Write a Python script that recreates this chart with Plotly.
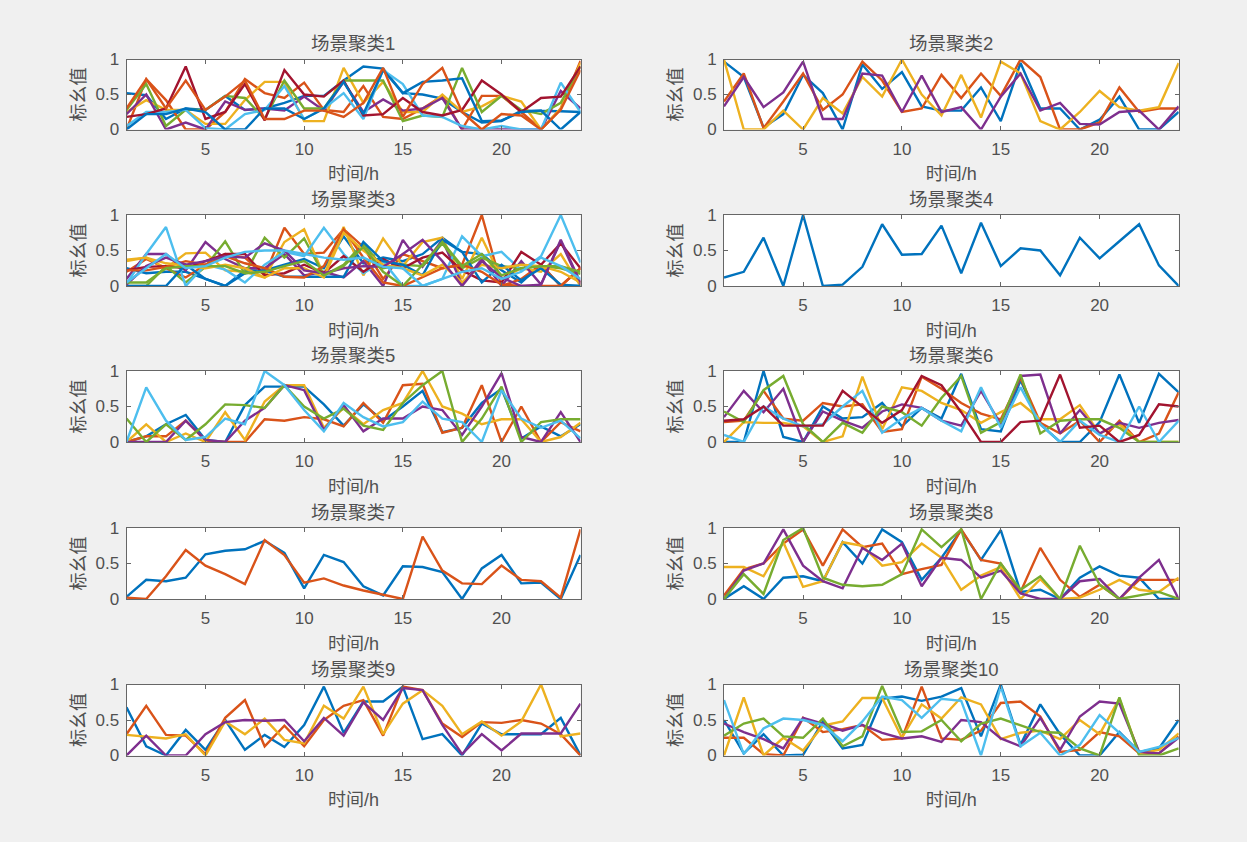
import plotly.graph_objects as go

hours = list(range(1, 25))
colors = ["#0072BD", "#D95319", "#EDB120", "#7E2F8E", "#77AC30", "#4DBEEE", "#A2142F"]
titles = [f"场景聚类{i}" for i in range(1, 11)]
x_label = "时间/h"
y_label = "标幺值"
x_ticks = [5, 10, 15, 20]
y_ticks = [0, 0.5, 1]
y_tick_text = ["0", "0.5", "1"]

cluster1 = [
    [.52,.49,.15,.30,.28,.48,.28,.30,.38,.48,.48,.70,.90,.87,.52,.50,.44,.25,.10,.12,.27,.27,.26,.25],
    [0,.72,.42,0,0,.25,.72,.52,.45,.67,.28,.25,.62,.18,.15,.30,.48,0,.48,.48,.25,0,.30,.98],
    [.25,.42,.28,.28,.08,.08,.42,.68,.68,.12,.12,.88,.38,.68,.25,.25,.50,.25,.33,.48,.40,0,.30,.95],
    [.22,.50,0,.10,0,.40,.28,.30,.27,.47,.27,.68,.25,.43,.27,.30,.45,0,0,0,0,0,.55,.30],
    [.28,.65,.05,.28,.28,.48,.45,.15,.70,.30,.30,.70,.70,.70,.12,.20,.18,.88,.25,.48,.28,.22,.38,.90],
    [.05,.25,.25,.28,.02,0,.22,.28,.62,.15,.30,.52,.15,.85,.65,.20,.18,.05,0,.05,0,0,.67,.25],
    [.18,.22,.30,.90,.15,.25,.65,.13,.85,.50,.47,.70,.20,.22,.45,.25,.20,.28,.70,.50,.25,.45,.47,.90],
    [0,.22,.22,.30,.25,0,0,.30,.30,.15,.30,.68,.22,.85,.52,.68,.70,.73,.12,.13,.25,.27,0,.25],
    [.30,.72,.30,.70,.28,.47,.70,.15,.15,.27,.27,.18,.38,.88,.18,.65,.88,.25,0,.22,.20,0,.28,.85],
]
cluster2 = [
    [.97,.75,.03,.22,.78,.52,0,.93,.58,.82,.33,.27,.27,.60,.12,.95,.30,.30,0,.14,.47,0,0,.25],
    [.40,.80,.02,.40,.80,.28,.50,.97,.70,.25,.30,.78,.45,.80,.48,1,.75,0,0,.10,.60,.25,.30,.30],
    [1,0,0,.27,0,.45,.23,.75,.47,1,.50,.20,.78,.17,.97,.80,.12,0,.25,.55,.32,.27,.32,.95],
    [.33,.75,.32,.53,.97,.15,.15,.80,.77,.25,.77,.25,.32,0,.47,.80,.27,.38,.08,.07,.25,.27,0,.33],
]
cluster3 = [
    [.25,.18,.20,.20,.10,0,.22,.22,.30,.38,.25,.70,.32,.40,.35,.45,.68,.48,.45,.22,.05,.30,0,0],
    [.20,.38,.25,.12,.30,.45,.40,.15,.82,.45,.47,.80,.55,.10,.45,.35,.25,.30,1,0,.10,.30,0,.25],
    [.35,.40,.25,.46,.47,.22,.20,.12,.62,.80,.15,.83,.15,.67,.28,.62,.68,.10,.68,.10,.25,.20,.45,0],
    [.10,.45,.45,.22,.62,.38,.25,.25,.45,.15,.20,.12,.35,0,.65,.27,.65,.02,.38,0,.35,.02,.63,.02],
    [0,0,.28,.05,.27,.63,.17,.68,.40,.67,.15,.30,.60,.25,.30,.28,.60,.25,.40,.28,.25,.28,.25,.17],
    [.03,.45,.83,0,.30,.23,.05,.30,.48,.42,.82,.45,.18,.35,0,0,.10,.70,.42,.48,.22,.42,1,.33],
    [.22,.27,.28,.25,.35,.45,.45,.15,.18,.30,.18,.42,.20,.38,.25,.40,.47,.22,.08,.05,.48,.30,.60,.25],
    [0,0,0,.30,.10,0,.18,.22,.13,.13,.13,.13,.62,.35,.30,.15,.65,.48,.05,.30,.08,.25,.02,0],
    [.22,.22,.27,.35,.30,.42,.32,.25,.13,.12,.28,.80,.40,.05,0,.12,.25,.30,.20,.02,0,0,0,.25],
    [.37,.40,.32,.28,.25,.30,.25,.12,.25,.25,.12,.75,.50,.30,.25,.15,.30,.05,.30,.25,.30,.28,.20,.05],
    [.02,.28,.40,.30,.35,.42,.40,.60,.50,.22,.18,.25,.28,.27,.45,.65,.35,0,.35,.12,0,.02,.65,.05],
    [.05,.05,.25,.28,.28,.28,.18,.20,.28,.35,.15,.28,.55,.20,0,.30,.62,.28,.45,.15,.25,.28,.28,.20],
    [.05,.25,.45,.25,.28,.40,.48,.50,.50,.45,.40,.37,.40,.27,.25,0,.10,.20,.25,.10,.20,.40,.28,.10],
]
cluster4 = [
    [.12,.20,.68,0,1,0,.02,.27,.87,.44,.45,.85,.18,.89,.28,.53,.50,.15,.68,.39,.63,.87,.29,0],
]
cluster5 = [
    [0,.08,.25,.38,.03,0,.52,.78,.78,.78,.53,.23,.53,.30,.50,.72,.14,.20,.55,.75,.05,.22,.08,.25],
    [0,.08,.08,.30,.02,0,0,.32,.30,.35,.32,.22,.55,.27,.80,.82,.13,.20,.80,0,.50,0,.28,.15],
    [0,.25,0,.12,0,.42,.03,.57,.80,.80,.20,.48,.25,.45,.55,1,.50,.40,.25,.32,.32,0,.07,.27],
    [0,0,0,.30,.03,0,.30,.48,.80,.73,.17,.52,.15,.33,.33,.50,.45,.10,.50,.97,.07,0,.42,0],
    [.33,0,.25,.03,.25,.53,.52,.48,.80,.50,.33,.47,.23,.17,.55,.80,1,0,.33,.78,0,.28,.32,.32],
    [0,.77,.30,.03,.07,.33,.25,1,.80,.45,.15,.55,.35,.22,.28,.57,.33,.28,0,.73,.33,.20,.30,.05],
]
cluster6 = [
    [0,0,1,.07,0,.50,.33,.35,.55,.22,.48,.33,.96,.18,.15,.87,.25,0,0,.28,.95,.27,.96,.70],
    [.28,.30,.72,.33,.30,.55,.50,.53,.14,.18,.92,.75,.55,.40,.32,.90,.27,.12,.30,0,.30,0,.12,.70],
    [0,.28,.27,.27,.22,0,.08,.92,.18,.77,.72,.55,.45,.27,.42,.55,.32,.32,.52,.12,.25,0,0,0],
    [.35,.72,.42,.75,0,.43,.30,.20,.43,.53,.48,.30,.23,.72,.25,.93,.95,.12,.45,.12,.27,.20,.27,.31],
    [.43,.28,.73,.93,.25,0,.27,.13,.50,.42,.23,.62,.93,.13,.28,.95,.12,.30,.32,.32,.20,0,0,0],
    [.10,0,.50,.33,.22,.25,.50,.72,.13,.33,.48,.30,.15,.77,.20,.77,.25,0,.30,.10,0,.50,0,.30],
    [.30,.32,.50,.23,.23,.23,.72,.50,.27,.45,.93,.80,.42,0,0,.28,.30,.95,.20,.23,0,.10,.53,.50],
]
cluster7 = [
    [.03,.27,.25,.30,.63,.68,.70,.82,.65,.15,.62,.52,.18,.05,.46,.45,.38,0,.43,.62,.22,.23,0,.62],
    [.02,0,.32,.69,.47,.35,.21,.83,.62,.23,.29,.19,.12,.06,0,.88,.40,.22,.21,.47,.27,.25,.02,.98],
]
cluster8 = [
    [0,.18,0,.30,.32,.25,.80,.50,.98,.80,.27,.58,.97,.55,.97,.10,.13,0,.30,.46,.33,.30,0,0],
    [.05,.42,.50,.78,.98,.47,.98,.73,.78,.35,.42,.48,.98,.55,.50,.10,.72,.27,.03,.20,0,.27,.27,.27],
    [.45,.45,.32,.80,.17,.25,.80,.75,.47,.52,.78,.58,.13,.33,.45,0,.28,0,.02,.13,.27,.13,.10,.30],
    [0,.40,.50,.98,.47,.25,.15,.72,.55,.78,.18,.58,.55,.30,.40,.08,0,0,.25,.28,0,.30,.55,0],
    [0,.35,.07,.83,1,.30,.20,.18,.20,.35,.98,.73,.98,0,.50,.13,.32,0,.75,.20,0,.05,.10,0],
]
cluster9 = [
    [.68,.13,0,.36,.08,.50,.08,.29,.12,.43,.97,.32,.76,.76,.97,.23,.30,0,.45,.30,.30,.30,.53,0],
    [.30,.70,.29,.28,.02,.53,.78,.13,.42,.13,.50,.70,.78,.28,.97,.92,.45,.26,.47,.46,.50,.45,.30,0],
    [.29,.26,.24,.30,0,.48,.30,.52,.22,.17,.70,.52,.97,.30,.73,.92,.70,.30,.48,.28,.48,1,.27,.31],
    [0,.28,0,0,.30,.47,.50,.49,.50,.20,.53,.28,.75,.50,.95,.92,.43,.02,.30,.07,.31,.31,.31,.73],
]
cluster10 = [
    [.50,.03,.30,0,.01,.48,.10,.15,.80,.83,.77,.83,.95,.27,1,.15,.72,.30,0,0,.33,.05,.10,.50],
    [.25,.25,.02,0,.53,.33,.37,.43,.22,.24,.97,.24,.22,.35,.74,.76,.55,.05,.08,.33,.27,.03,.03,.27],
    [0,.82,0,.25,.07,.42,.48,.81,.81,.25,.72,.52,.82,.72,.23,.32,.35,.23,.50,.30,.80,.03,.08,.31],
    [.45,.33,.23,.10,.53,.45,.35,.43,.32,.24,.27,.19,.50,.47,.24,.13,.53,.08,.55,.76,.73,.05,.03,.25],
    [.28,.45,.52,.27,.25,.52,.13,.27,.98,.33,.34,.50,.20,.45,.52,.43,.33,.32,.10,0,.82,0,0,.10],
    [.78,.02,.38,.52,.50,.43,.20,.48,.83,.78,.53,.80,.77,0,.97,.13,.32,0,.15,.57,.32,.05,.12,.25],
]
clusters = [cluster1, cluster2, cluster3, cluster4, cluster5,
            cluster6, cluster7, cluster8, cluster9, cluster10]

W, H = 1247, 842
FONT = "Liberation Sans, Noto Sans CJK SC, sans-serif"
TEXT = "#505050"
AXIS = "#666666"
col_px = [(126.5, 580.5), (724, 1178.7)]
row_px = [(59.5, 129.5), (215, 286), (371, 442), (528, 599), (684.5, 755.5)]

fig = go.Figure()
layout = dict(
    width=W, height=H, margin=dict(l=0, r=0, t=0, b=0, autoexpand=False),
    paper_bgcolor="#F0F0F0", plot_bgcolor="white", showlegend=False,
    font=dict(family=FONT, size=17, color=TEXT), annotations=[],
)
for i, series in enumerate(clusters):
    col, row = i % 2, i // 2
    n = i + 1
    suffix = "" if n == 1 else str(n)
    x0, x1 = col_px[col]
    y0, y1 = row_px[row]
    for k, vals in enumerate(series):
        fig.add_trace(go.Scatter(x=hours, y=vals, mode="lines", xaxis=f"x{suffix}", yaxis=f"y{suffix}",
                                 line=dict(color=colors[k % 7], width=2.4), hoverinfo="skip"))
    layout[f"xaxis{suffix}"] = dict(
        domain=[x0 / W, x1 / W], anchor=f"y{suffix}", range=[1, 24], tickvals=x_ticks,
        ticks="inside", ticklen=4, tickcolor=AXIS, tickwidth=1, showgrid=False, zeroline=False,
        showline=True, linecolor=AXIS, linewidth=1, mirror="ticks", ticklabelstandoff=4,
        title=dict(text=x_label, standoff=9, font=dict(size=18, color=TEXT)),
        tickfont=dict(size=17, color=TEXT),
    )
    layout[f"yaxis{suffix}"] = dict(
        domain=[1 - y1 / H, 1 - y0 / H], anchor=f"x{suffix}", range=[0, 1], tickvals=y_ticks,
        ticktext=y_tick_text, ticks="inside", ticklen=4, tickcolor=AXIS, tickwidth=1,
        showgrid=False, zeroline=False, showline=True, linecolor=AXIS, linewidth=1, mirror="ticks",
        ticklabelstandoff=3,
        title=dict(text=y_label, standoff=5, font=dict(size=18, color=TEXT)),
        tickfont=dict(size=17, color=TEXT),
    )
    layout["annotations"].append(dict(
        text=titles[i], xref="paper", yref="paper", x=(x0 + x1) / 2 / W, y=1 - y0 / H, yshift=3,
        xanchor="center", yanchor="bottom", showarrow=False, font=dict(size=18.5, color=TEXT),
    ))
fig.update_layout(**layout)
fig.write_html("out.html", config={"displayModeBar": False},
               post_script="document.body.style.margin='0';document.body.style.background='#F0F0F0';")
